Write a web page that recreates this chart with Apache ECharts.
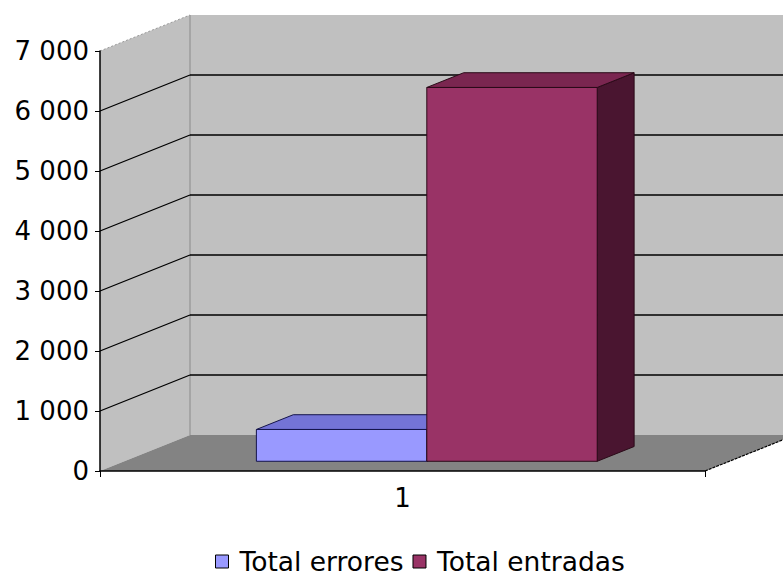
<!DOCTYPE html>
<html>
<head>
<meta charset="utf-8">
<script src="https://cdn.jsdelivr.net/npm/echarts@6/dist/echarts.min.js"></script>
<style>
  html, body { margin: 0; padding: 0; background: #ffffff; }
  #chart { width: 783px; height: 576px; }
</style>
</head>
<body>
<div id="chart"></div>
<script>
// ---- data ----
const categories = ['1'];
const seriesNames = ['Total errores', 'Total entradas'];
const totalErrores = [530];
const totalEntradas = [6230];
const yTicks = [0, 1000, 2000, 3000, 4000, 5000, 6000, 7000];

// ---- style constants ----
const DX = 90, DY = 36;          // depth offset of back wall
const D1 = 0.27, D2 = 0.68;      // bar front/back depth fractions
const GAP = 1.55;                // gap width relative to bar width
const FONT = 'DejaVu Sans';
const faceColors = [
  { front: '#9999ff', top: '#7474d6', side: '#55559a', border: '#14144a' },
  { front: '#993366', top: '#7a2650', side: '#4a1530', border: '#2a0a18' }
];

function fmt(v) { return String(v).replace(/\B(?=(\d{3})+(?!\d))/g, ' '); }

const chart = echarts.init(document.getElementById('chart'), null, { renderer: 'svg' });

function renderWalls(params, api) {
  const cs = params.coordSys;
  const left = cs.x, right = cs.x + cs.width;
  const yTop = api.coord([0, yTicks[yTicks.length - 1]])[1];
  const yBot = api.coord([0, 0])[1];
  const children = [];
  children.push({ type: 'polygon', shape: { points: [
    [left + DX, yTop - DY], [right + DX, yTop - DY], [right + DX, yBot - DY], [left + DX, yBot - DY]
  ] }, style: { fill: '#c0c0c0', stroke: null } });
  children.push({ type: 'polygon', shape: { points: [
    [left, yTop], [left + DX, yTop - DY], [left + DX, yBot - DY], [left, yBot]
  ] }, style: { fill: '#c0c0c0', stroke: null } });
  children.push({ type: 'polygon', shape: { points: [
    [left, yBot], [right, yBot], [right + DX, yBot - DY], [left + DX, yBot - DY]
  ] }, style: { fill: '#838383', stroke: null } });
  children.push({ type: 'line', shape: { x1: left + DX, y1: yTop - DY, x2: left + DX, y2: yBot - DY },
    style: { stroke: '#8a8a8a', lineWidth: 1 } });
  yTicks.forEach(function (v) {
    if (v === 0) return;
    const y = api.coord([0, v])[1];
    const isTop = v === yTicks[yTicks.length - 1];
    children.push({ type: 'line', shape: { x1: left, y1: y, x2: left + DX, y2: y - DY },
      style: { stroke: isTop ? '#9a9a9a' : '#000', lineWidth: isTop ? 1 : 1.3, lineDash: isTop ? [2, 2] : null } });
    if (!isTop) {
      children.push({ type: 'line', shape: { x1: left + DX, y1: y - DY, x2: right + DX, y2: y - DY },
        style: { stroke: '#000', lineWidth: 1.3 } });
    }
  });
  children.push({ type: 'line', shape: { x1: right, y1: yBot, x2: right + DX, y2: yBot - DY },
    style: { stroke: '#000', lineWidth: 1.2, lineDash: [3, 1] } });
  return { type: 'group', children: children };
}

function makeBarRenderer(idx) {
  return function (params, api) {
    const cat = api.value(0), val = api.value(1);
    const base = api.coord([cat, 0]);
    const top = api.coord([cat, val]);
    const band = api.size([1, 0])[0];
    const bw = band / (2 + GAP);
    const x0 = base[0] - bw + idx * bw;
    const fx = D1 * DX, fy = -D1 * DY, bx = D2 * DX, by = -D2 * DY;
    const c = faceColors[idx];
    const st = function (fill) { return { fill: fill, stroke: c.border, lineWidth: 1 }; };
    return { type: 'group', children: [
      { type: 'polygon', shape: { points: [
        [x0 + bw + fx, top[1] + fy], [x0 + bw + bx, top[1] + by], [x0 + bw + bx, base[1] + by], [x0 + bw + fx, base[1] + fy]
      ] }, style: st(c.side) },
      { type: 'polygon', shape: { points: [
        [x0 + fx, top[1] + fy], [x0 + bw + fx, top[1] + fy], [x0 + bw + bx, top[1] + by], [x0 + bx, top[1] + by]
      ] }, style: st(c.top) },
      { type: 'rect', shape: { x: x0 + fx, y: top[1] + fy, width: bw, height: base[1] - top[1] },
        style: st(c.front) }
    ] };
  };
}

const option = {
  backgroundColor: '#ffffff',
  animation: false,
  textStyle: { fontFamily: FONT },
  grid: { left: 100, top: 51, width: 605, height: 420, containLabel: false },
  legend: {
    bottom: -4,
    left: 210,
    itemWidth: 13,
    itemHeight: 13,
    itemGap: 9,
    textStyle: { fontFamily: FONT, fontSize: 26.5, color: '#000', padding: [0, 0, 0, 6] },
    data: seriesNames.map(function (n, i) {
      return { name: n, icon: 'rect', itemStyle: { color: faceColors[i].front, borderColor: '#000', borderWidth: 1 } };
    })
  },
  xAxis: {
    type: 'category',
    data: categories,
    z: 10,
    axisLine: { show: true, lineStyle: { color: '#000', width: 1.5 } },
    axisTick: { show: true, length: 6, lineStyle: { color: '#000' } },
    axisLabel: { fontFamily: FONT, fontSize: 26, color: '#000', margin: 14 },
    splitLine: { show: false }
  },
  yAxis: {
    type: 'value',
    min: 0, max: 7000, interval: 1000,
    z: 10,
    axisLine: { show: true, lineStyle: { color: '#000', width: 1.5 } },
    axisTick: { show: true, length: 5, lineStyle: { color: '#000' } },
    axisLabel: { fontFamily: FONT, fontSize: 26, color: '#000', margin: 11, formatter: fmt },
    splitLine: { show: false }
  },
  series: [
    { type: 'custom', name: '__walls', z: 1, silent: true, renderItem: renderWalls, data: [[0, 0]] },
    { type: 'custom', name: seriesNames[0], z: 3, renderItem: makeBarRenderer(0),
      itemStyle: { color: faceColors[0].front },
      data: categories.map(function (c, i) { return [i, totalErrores[i]]; }) },
    { type: 'custom', name: seriesNames[1], z: 4, renderItem: makeBarRenderer(1),
      itemStyle: { color: faceColors[1].front },
      data: categories.map(function (c, i) { return [i, totalEntradas[i]]; }) }
  ]
};
chart.setOption(option);
</script>
</body>
</html>
